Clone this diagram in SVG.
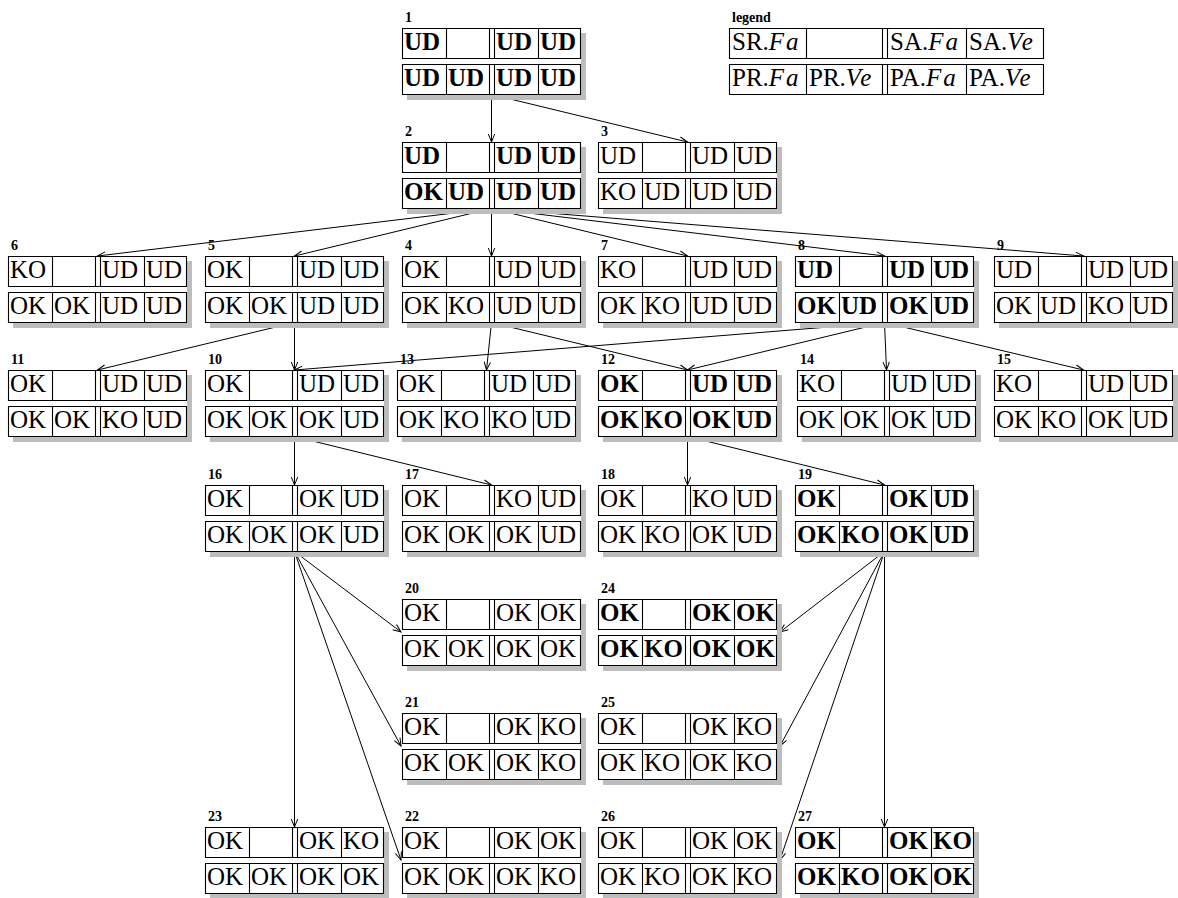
<svg xmlns="http://www.w3.org/2000/svg" xmlns:xlink="http://www.w3.org/1999/xlink" width="1178" height="898" viewBox="0 0 1178 898">
<style>
text{font-family:"Liberation Serif","Times New Roman",serif;fill:#000}
.v{font-size:25px}
.b .v{font-weight:bold}
.lb{font-size:14px;font-weight:bold}
.sh{fill:#bdbdbd}
.bg{fill:#fff}
.grid{fill:none;stroke:#000;stroke-width:1.1}
.m{font-style:italic;letter-spacing:2px}
#edges path{fill:none;stroke:#000;stroke-width:1;marker-end:url(#ah)}
</style>
<defs>
<marker id="ah" markerUnits="userSpaceOnUse" markerWidth="10" markerHeight="10" viewBox="-9 -5 10 10" refX="0" refY="0" orient="auto">
<path d="M-8,-3.2 L0,0 L-8,3.2" fill="none" stroke="#000" stroke-width="1"/>
</marker>
<g id="box">
<rect class="sh" x="5" y="5" width="179" height="67"/>
<rect class="bg" width="179" height="67"/>
<path class="grid" d="M0.5,0.5h178v30h-178z M0.5,36.5h178v30h-178z M44.5,0.5v30 M87.5,0.5v30 M92.5,0.5v30 M136.5,0.5v30 M44.5,36.5v30 M87.5,36.5v30 M92.5,36.5v30 M136.5,36.5v30"/>
</g>
</defs>
<rect width="1178" height="898" fill="#fff"/>

<g id="edges">
<path d="M491.5,94.5 L491.5,142"/>
<path d="M491.5,94.5 L687.5,142"/>
<path d="M491.5,208.5 L97.5,256"/>
<path d="M491.5,208.5 L294.5,256"/>
<path d="M491.5,208.5 L491.5,256"/>
<path d="M491.5,208.5 L687.5,256"/>
<path d="M491.5,208.5 L884.5,256"/>
<path d="M491.5,208.5 L1083.5,256"/>
<path d="M294.5,322.5 L97.5,370"/>
<path d="M294.5,322.5 L294.5,370"/>
<path d="M491.5,322.5 L486.5,370"/>
<path d="M491.5,322.5 L687.5,370"/>
<path d="M884.5,322.5 L294.5,370"/>
<path d="M884.5,322.5 L687.5,370"/>
<path d="M884.5,322.5 L886.5,370"/>
<path d="M884.5,322.5 L1083.5,370"/>
<path d="M294.5,436.5 L294.5,485"/>
<path d="M294.5,436.5 L491.5,485"/>
<path d="M687.5,436.5 L687.5,485"/>
<path d="M687.5,436.5 L884.5,485"/>
<path d="M294.5,551.5 L401,632"/>
<path d="M294.5,551.5 L401,746"/>
<path d="M294.5,551.5 L401,860"/>
<path d="M294.5,551.5 L294.5,827"/>
<path d="M884.5,551.5 L780,632"/>
<path d="M884.5,551.5 L780,746"/>
<path d="M884.5,551.5 L780,860"/>
<path d="M884.5,551.5 L884.5,827"/>
</g>

<g id="legend" transform="translate(729,28)">
<text class="lb" x="3" y="-6">legend</text>
<path class="grid" d="M0.5,0.5h314v30h-314z M0.5,36.5h314v30h-314z M77.5,0.5v30 M153.5,0.5v30 M158.5,0.5v30 M237.5,0.5v30 M77.5,36.5v30 M153.5,36.5v30 M158.5,36.5v30 M237.5,36.5v30"/>
<text class="v" x="3" y="22">SR.<tspan class="m">Fa</tspan></text>
<text class="v" x="161" y="22">SA.<tspan class="m">Fa</tspan></text>
<text class="v" x="240" y="22">SA.<tspan class="m">Ve</tspan></text>
<text class="v" x="3" y="58">PR.<tspan class="m">Fa</tspan></text>
<text class="v" x="80" y="58">PR.<tspan class="m">Ve</tspan></text>
<text class="v" x="161" y="58">PA.<tspan class="m">Fa</tspan></text>
<text class="v" x="240" y="58">PA.<tspan class="m">Ve</tspan></text>
</g>

<g id="n1" class="node b" transform="translate(402,28)"><text class="lb" x="3" y="-6">1</text><use href="#box"/>
<text class="v" x="2" y="22">UD</text><text class="v" x="94" y="22">UD</text><text class="v" x="138" y="22">UD</text>
<text class="v" x="2" y="58">UD</text><text class="v" x="46" y="58">UD</text><text class="v" x="94" y="58">UD</text><text class="v" x="138" y="58">UD</text></g>

<g id="n2" class="node b" transform="translate(402,142)"><text class="lb" x="3" y="-6">2</text><use href="#box"/>
<text class="v" x="2" y="22">UD</text><text class="v" x="94" y="22">UD</text><text class="v" x="138" y="22">UD</text>
<text class="v" x="2" y="58">OK</text><text class="v" x="46" y="58">UD</text><text class="v" x="94" y="58">UD</text><text class="v" x="138" y="58">UD</text></g>

<g id="n3" class="node" transform="translate(598,142)"><text class="lb" x="3" y="-6">3</text><use href="#box"/>
<text class="v" x="2" y="22">UD</text><text class="v" x="94" y="22">UD</text><text class="v" x="138" y="22">UD</text>
<text class="v" x="2" y="58">KO</text><text class="v" x="46" y="58">UD</text><text class="v" x="94" y="58">UD</text><text class="v" x="138" y="58">UD</text></g>

<g id="n6" class="node" transform="translate(8,256)"><text class="lb" x="3" y="-6">6</text><use href="#box"/>
<text class="v" x="2" y="22">KO</text><text class="v" x="94" y="22">UD</text><text class="v" x="138" y="22">UD</text>
<text class="v" x="2" y="58">OK</text><text class="v" x="46" y="58">OK</text><text class="v" x="94" y="58">UD</text><text class="v" x="138" y="58">UD</text></g>

<g id="n5" class="node" transform="translate(205,256)"><text class="lb" x="3" y="-6">5</text><use href="#box"/>
<text class="v" x="2" y="22">OK</text><text class="v" x="94" y="22">UD</text><text class="v" x="138" y="22">UD</text>
<text class="v" x="2" y="58">OK</text><text class="v" x="46" y="58">OK</text><text class="v" x="94" y="58">UD</text><text class="v" x="138" y="58">UD</text></g>

<g id="n4" class="node" transform="translate(402,256)"><text class="lb" x="3" y="-6">4</text><use href="#box"/>
<text class="v" x="2" y="22">OK</text><text class="v" x="94" y="22">UD</text><text class="v" x="138" y="22">UD</text>
<text class="v" x="2" y="58">OK</text><text class="v" x="46" y="58">KO</text><text class="v" x="94" y="58">UD</text><text class="v" x="138" y="58">UD</text></g>

<g id="n7" class="node" transform="translate(598,256)"><text class="lb" x="3" y="-6">7</text><use href="#box"/>
<text class="v" x="2" y="22">KO</text><text class="v" x="94" y="22">UD</text><text class="v" x="138" y="22">UD</text>
<text class="v" x="2" y="58">OK</text><text class="v" x="46" y="58">KO</text><text class="v" x="94" y="58">UD</text><text class="v" x="138" y="58">UD</text></g>

<g id="n8" class="node b" transform="translate(795,256)"><text class="lb" x="3" y="-6">8</text><use href="#box"/>
<text class="v" x="2" y="22">UD</text><text class="v" x="94" y="22">UD</text><text class="v" x="138" y="22">UD</text>
<text class="v" x="2" y="58">OK</text><text class="v" x="46" y="58">UD</text><text class="v" x="94" y="58">OK</text><text class="v" x="138" y="58">UD</text></g>

<g id="n9" class="node" transform="translate(994,256)"><text class="lb" x="3" y="-6">9</text><use href="#box"/>
<text class="v" x="2" y="22">UD</text><text class="v" x="94" y="22">UD</text><text class="v" x="138" y="22">UD</text>
<text class="v" x="2" y="58">OK</text><text class="v" x="46" y="58">UD</text><text class="v" x="94" y="58">KO</text><text class="v" x="138" y="58">UD</text></g>

<g id="n11" class="node" transform="translate(8,370)"><text class="lb" x="3" y="-6">11</text><use href="#box"/>
<text class="v" x="2" y="22">OK</text><text class="v" x="94" y="22">UD</text><text class="v" x="138" y="22">UD</text>
<text class="v" x="2" y="58">OK</text><text class="v" x="46" y="58">OK</text><text class="v" x="94" y="58">KO</text><text class="v" x="138" y="58">UD</text></g>

<g id="n10" class="node" transform="translate(205,370)"><text class="lb" x="3" y="-6">10</text><use href="#box"/>
<text class="v" x="2" y="22">OK</text><text class="v" x="94" y="22">UD</text><text class="v" x="138" y="22">UD</text>
<text class="v" x="2" y="58">OK</text><text class="v" x="46" y="58">OK</text><text class="v" x="94" y="58">OK</text><text class="v" x="138" y="58">UD</text></g>

<g id="n13" class="node" transform="translate(397,370)"><text class="lb" x="3" y="-6">13</text><use href="#box"/>
<text class="v" x="2" y="22">OK</text><text class="v" x="94" y="22">UD</text><text class="v" x="138" y="22">UD</text>
<text class="v" x="2" y="58">OK</text><text class="v" x="46" y="58">KO</text><text class="v" x="94" y="58">KO</text><text class="v" x="138" y="58">UD</text></g>

<g id="n12" class="node b" transform="translate(598,370)"><text class="lb" x="3" y="-6">12</text><use href="#box"/>
<text class="v" x="2" y="22">OK</text><text class="v" x="94" y="22">UD</text><text class="v" x="138" y="22">UD</text>
<text class="v" x="2" y="58">OK</text><text class="v" x="46" y="58">KO</text><text class="v" x="94" y="58">OK</text><text class="v" x="138" y="58">UD</text></g>

<g id="n14" class="node" transform="translate(797,370)"><text class="lb" x="3" y="-6">14</text><use href="#box"/>
<text class="v" x="2" y="22">KO</text><text class="v" x="94" y="22">UD</text><text class="v" x="138" y="22">UD</text>
<text class="v" x="2" y="58">OK</text><text class="v" x="46" y="58">OK</text><text class="v" x="94" y="58">OK</text><text class="v" x="138" y="58">UD</text></g>

<g id="n15" class="node" transform="translate(994,370)"><text class="lb" x="3" y="-6">15</text><use href="#box"/>
<text class="v" x="2" y="22">KO</text><text class="v" x="94" y="22">UD</text><text class="v" x="138" y="22">UD</text>
<text class="v" x="2" y="58">OK</text><text class="v" x="46" y="58">KO</text><text class="v" x="94" y="58">OK</text><text class="v" x="138" y="58">UD</text></g>

<g id="n16" class="node" transform="translate(205,485)"><text class="lb" x="3" y="-6">16</text><use href="#box"/>
<text class="v" x="2" y="22">OK</text><text class="v" x="94" y="22">OK</text><text class="v" x="138" y="22">UD</text>
<text class="v" x="2" y="58">OK</text><text class="v" x="46" y="58">OK</text><text class="v" x="94" y="58">OK</text><text class="v" x="138" y="58">UD</text></g>

<g id="n17" class="node" transform="translate(402,485)"><text class="lb" x="3" y="-6">17</text><use href="#box"/>
<text class="v" x="2" y="22">OK</text><text class="v" x="94" y="22">KO</text><text class="v" x="138" y="22">UD</text>
<text class="v" x="2" y="58">OK</text><text class="v" x="46" y="58">OK</text><text class="v" x="94" y="58">OK</text><text class="v" x="138" y="58">UD</text></g>

<g id="n18" class="node" transform="translate(598,485)"><text class="lb" x="3" y="-6">18</text><use href="#box"/>
<text class="v" x="2" y="22">OK</text><text class="v" x="94" y="22">KO</text><text class="v" x="138" y="22">UD</text>
<text class="v" x="2" y="58">OK</text><text class="v" x="46" y="58">KO</text><text class="v" x="94" y="58">OK</text><text class="v" x="138" y="58">UD</text></g>

<g id="n19" class="node b" transform="translate(795,485)"><text class="lb" x="3" y="-6">19</text><use href="#box"/>
<text class="v" x="2" y="22">OK</text><text class="v" x="94" y="22">OK</text><text class="v" x="138" y="22">UD</text>
<text class="v" x="2" y="58">OK</text><text class="v" x="46" y="58">KO</text><text class="v" x="94" y="58">OK</text><text class="v" x="138" y="58">UD</text></g>

<g id="n20" class="node" transform="translate(402,599)"><text class="lb" x="3" y="-6">20</text><use href="#box"/>
<text class="v" x="2" y="22">OK</text><text class="v" x="94" y="22">OK</text><text class="v" x="138" y="22">OK</text>
<text class="v" x="2" y="58">OK</text><text class="v" x="46" y="58">OK</text><text class="v" x="94" y="58">OK</text><text class="v" x="138" y="58">OK</text></g>

<g id="n24" class="node b" transform="translate(598,599)"><text class="lb" x="3" y="-6">24</text><use href="#box"/>
<text class="v" x="2" y="22">OK</text><text class="v" x="94" y="22">OK</text><text class="v" x="138" y="22">OK</text>
<text class="v" x="2" y="58">OK</text><text class="v" x="46" y="58">KO</text><text class="v" x="94" y="58">OK</text><text class="v" x="138" y="58">OK</text></g>

<g id="n21" class="node" transform="translate(402,713)"><text class="lb" x="3" y="-6">21</text><use href="#box"/>
<text class="v" x="2" y="22">OK</text><text class="v" x="94" y="22">OK</text><text class="v" x="138" y="22">KO</text>
<text class="v" x="2" y="58">OK</text><text class="v" x="46" y="58">OK</text><text class="v" x="94" y="58">OK</text><text class="v" x="138" y="58">KO</text></g>

<g id="n25" class="node" transform="translate(598,713)"><text class="lb" x="3" y="-6">25</text><use href="#box"/>
<text class="v" x="2" y="22">OK</text><text class="v" x="94" y="22">OK</text><text class="v" x="138" y="22">KO</text>
<text class="v" x="2" y="58">OK</text><text class="v" x="46" y="58">KO</text><text class="v" x="94" y="58">OK</text><text class="v" x="138" y="58">KO</text></g>

<g id="n23" class="node" transform="translate(205,827)"><text class="lb" x="3" y="-6">23</text><use href="#box"/>
<text class="v" x="2" y="22">OK</text><text class="v" x="94" y="22">OK</text><text class="v" x="138" y="22">KO</text>
<text class="v" x="2" y="58">OK</text><text class="v" x="46" y="58">OK</text><text class="v" x="94" y="58">OK</text><text class="v" x="138" y="58">OK</text></g>

<g id="n22" class="node" transform="translate(402,827)"><text class="lb" x="3" y="-6">22</text><use href="#box"/>
<text class="v" x="2" y="22">OK</text><text class="v" x="94" y="22">OK</text><text class="v" x="138" y="22">OK</text>
<text class="v" x="2" y="58">OK</text><text class="v" x="46" y="58">OK</text><text class="v" x="94" y="58">OK</text><text class="v" x="138" y="58">KO</text></g>

<g id="n26" class="node" transform="translate(598,827)"><text class="lb" x="3" y="-6">26</text><use href="#box"/>
<text class="v" x="2" y="22">OK</text><text class="v" x="94" y="22">OK</text><text class="v" x="138" y="22">OK</text>
<text class="v" x="2" y="58">OK</text><text class="v" x="46" y="58">KO</text><text class="v" x="94" y="58">OK</text><text class="v" x="138" y="58">KO</text></g>

<g id="n27" class="node b" transform="translate(795,827)"><text class="lb" x="3" y="-6">27</text><use href="#box"/>
<text class="v" x="2" y="22">OK</text><text class="v" x="94" y="22">OK</text><text class="v" x="138" y="22">KO</text>
<text class="v" x="2" y="58">OK</text><text class="v" x="46" y="58">KO</text><text class="v" x="94" y="58">OK</text><text class="v" x="138" y="58">OK</text></g>
</svg>
